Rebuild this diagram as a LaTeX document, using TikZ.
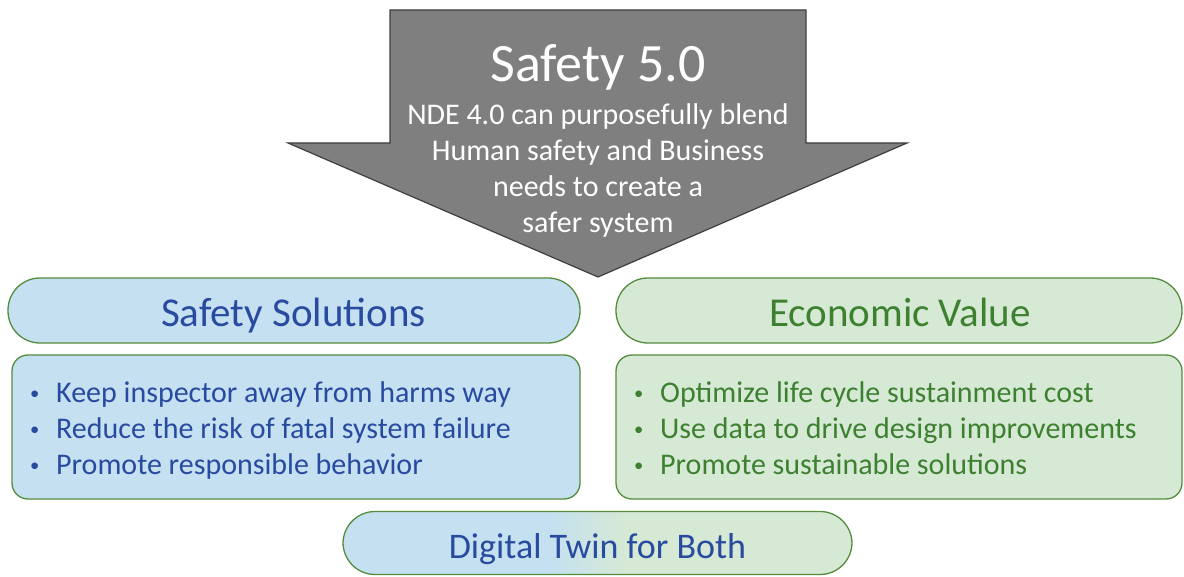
\documentclass[tikz,border=0pt]{standalone}
\usepackage{fontspec}
\usepackage{graphicx}
\setmainfont{Carlito}
\definecolor{arrowgray}{HTML}{7F7F7F}
\definecolor{arrowline}{HTML}{3F3F3F}
\definecolor{bluefill}{RGB}{196,224,241}
\definecolor{greenfill}{RGB}{214,233,212}
\definecolor{greenline}{RGB}{84,140,60}
\definecolor{bluetext}{RGB}{40,75,160}
\definecolor{greentext}{RGB}{60,128,48}
\pgfdeclarehorizontalshading{twinshade}{100bp}{color(0bp)=(bluefill); color(45bp)=(bluefill); color(53bp)=(greenfill); color(100bp)=(greenfill)}
\newcommand{\mybul}{\makebox[28pt][l]{\hspace{2pt}\raisebox{3pt}{\scalebox{0.62}{•}}}}
\begin{document}
\begin{tikzpicture}[x=1pt,y=1pt,
  pill/.style={draw=greenline, line width=1.3pt, rounded corners=32pt, minimum height=65pt, inner sep=0pt},
  panel/.style={draw=greenline, line width=1.3pt, rounded corners=16pt, minimum height=144pt, inner sep=0pt},
  headtext/.style={font=\fontsize{41}{48}\selectfont, anchor=base, inner sep=0pt},
  bluebullet/.style={font=\fontsize{30}{36}\selectfont, text=bluetext, anchor=base west, inner sep=0pt},
  greenbullet/.style={font=\fontsize{30}{36}\selectfont, text=greentext, anchor=base west, inner sep=0pt}]
\useasboundingbox (0,0) rectangle (1184,576);
% big arrow
\draw[fill=arrowgray, draw=arrowline, line width=1.2pt, line join=miter]
  (390,566) -- (806,566) -- (806,433) -- (907,433) -- (598,299) -- (288,433) -- (390,433) -- cycle;
\node[font=\fontsize{54}{60}\selectfont, text=white, anchor=base, inner sep=0pt] (title) at (598,494) {Safety 5.0};
\node[font=\fontsize{30}{36}\selectfont, text=white, align=center, inner sep=0pt] (subtitle) at (598,405)
  {NDE 4.0 can purposefully blend\\Human safety and Business\\needs to create a\\safer system};
% pills and panels
\node[pill, fill=bluefill, minimum width=572pt] (safetypill) at (294,265.5) {};
\node[pill, fill=greenfill, minimum width=566pt] (econpill) at (899,265.5) {};
\node[panel, fill=bluefill, minimum width=568pt] (safetypanel) at (296,149) {};
\node[panel, fill=greenfill, minimum width=566pt] (econpanel) at (899,149) {};
\node[pill, shading=twinshade, minimum width=509pt, minimum height=63pt] (twinpill) at (597.5,33) {};
% headings
\node[headtext, text=bluetext] (safetyhead) at (293.5,249) {Safety Solutions};
\node[headtext, text=greentext] (econhead) at (900,249) {Economic Value};
\node[font=\fontsize{36}{42}\selectfont, text=bluetext, anchor=base, inner sep=0pt] (twinhead) at (597.5,18) {Digital Twin for Both};
% bullets
\node[bluebullet] (s1) at (28,173) {\mybul Keep inspector away from harms way};
\node[bluebullet] (s2) at (28,137) {\mybul Reduce the risk of fatal system failure};
\node[bluebullet] (s3) at (28,101) {\mybul Promote responsible behavior};
\node[greenbullet] (e1) at (632,173) {\mybul Optimize life cycle sustainment cost};
\node[greenbullet] (e2) at (632,137) {\mybul Use data to drive design improvements};
\node[greenbullet] (e3) at (632,101) {\mybul Promote sustainable solutions};
\end{tikzpicture}
\end{document}
